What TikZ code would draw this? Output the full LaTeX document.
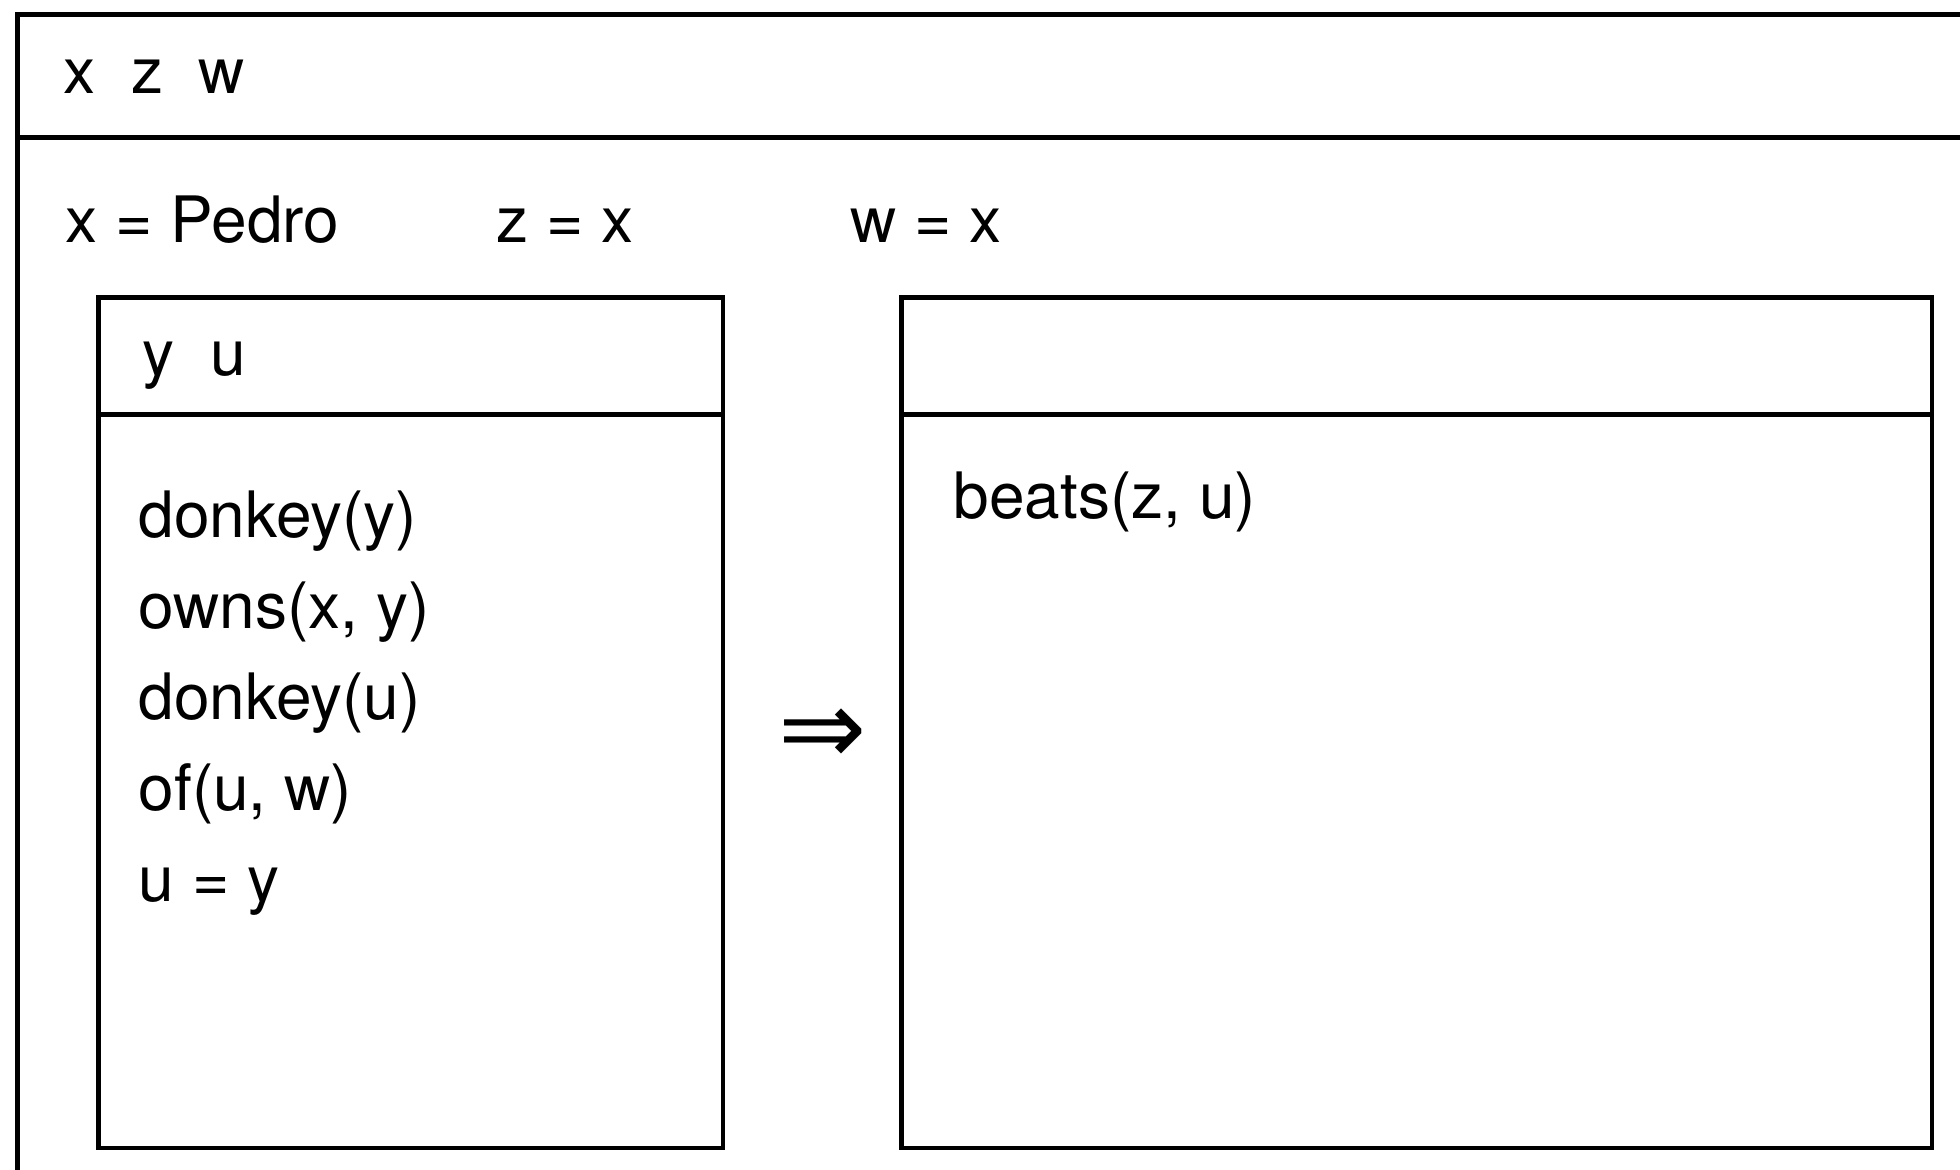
\documentclass[tikz,border=0pt]{standalone}
\usepackage{fontspec}
\setmainfont{TeX Gyre Heros}
\newfontfamily\symfont{DejaVu Sans}
\begin{document}
\begin{tikzpicture}[x=0.01cm,y=-0.01cm,
  frame/.style={draw=black, line width=1.3pt, inner sep=0pt, anchor=north west},
  rule/.style={draw=black, line width=1.3pt},
  txt/.style={anchor=base west, inner sep=0pt, font=\fontsize{18.2}{21}\selectfont}]
\useasboundingbox (0,0) rectangle (1960,1170);
\clip (0,0) rectangle (1960,1170);

% outer DRS (runs past the right and bottom edges)
\node[frame, minimum width=20cm, minimum height=12cm] (outer) at (15,12.5) {};
\draw[rule] (outer.west |- 0,137.5) -- (outer.east |- 0,137.5);
\node[txt] (univ) at (63,94) {x\ \ z\ \ w};

\node[txt] (c1) at (65,243) {x = Pedro};
\node[txt] (c2) at (496,243) {z = x};
\node[txt] (c3) at (850,243) {w = x};

% antecedent box
\node[frame, minimum width=6.245cm, minimum height=8.5cm] (ante) at (96,295) {};
\draw[rule] (ante.west |- 0,414.5) -- (ante.east |- 0,414.5);
\node[txt] (auniv) at (142,375) {y\ \ u};
\node[txt] (a1) at (138,537) {donkey(y)};
\node[txt] (a2) at (138,628) {owns(x, y)};
\node[txt] (a3) at (138,719) {donkey(u)};
\node[txt] (a4) at (138,810) {of(u, w)};
\node[txt] (a5) at (138,901) {u = y};

% implication
\node[inner sep=0pt, font=\symfont\fontsize{30}{34}\selectfont] (imp) at (823,737) {⇒};

% consequent box
\node[frame, minimum width=10.3cm, minimum height=8.5cm] (cons) at (899,295) {};
\draw[rule] (cons.west |- 0,414.5) -- (cons.east |- 0,414.5);
\node[txt] (b1) at (953,518) {beats(z, u)};
\end{tikzpicture}
\end{document}
